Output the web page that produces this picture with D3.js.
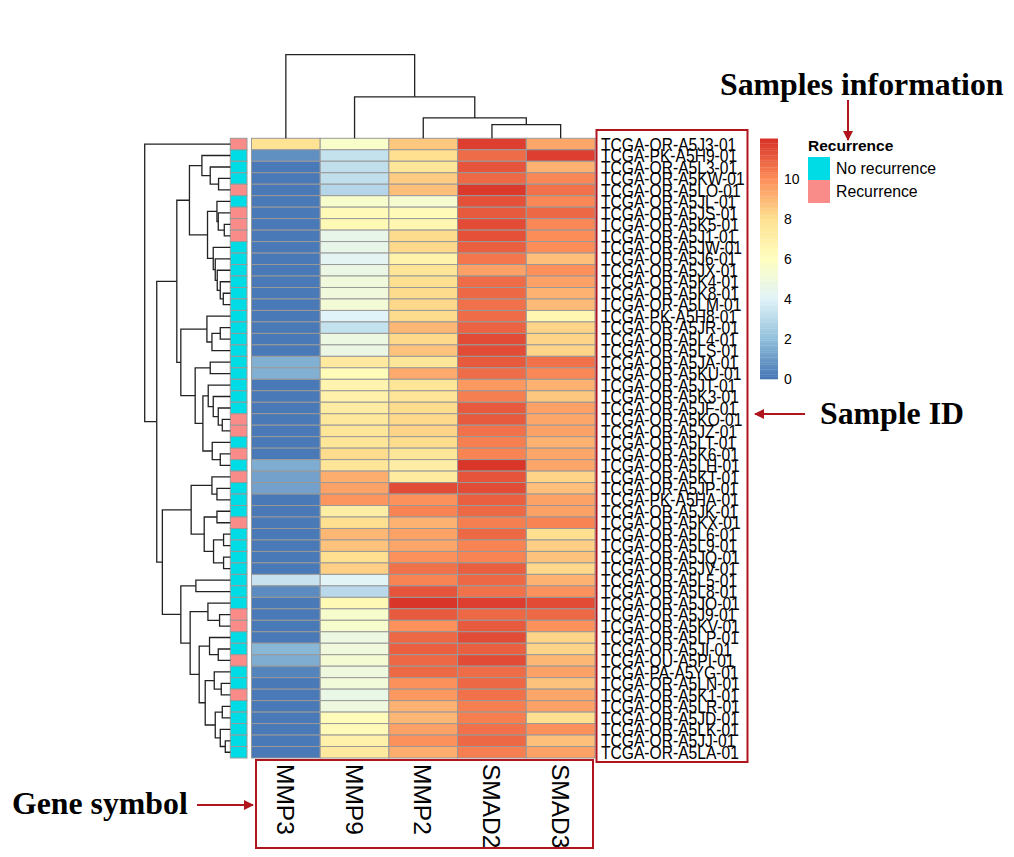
<!DOCTYPE html>
<html>
<head>
<meta charset="utf-8">
<script src="https://cdn.jsdelivr.net/npm/d3@7"></script>
<style>
  body { margin: 0; background: #fff; }
  svg { display: block; }
</style>
</head>
<body>
<div id="chart"></div>
<script>
// ---- data ----
const genes = ['MMP3', 'MMP9', 'MMP2', 'SMAD2', 'SMAD3'];

const samples = [
  'TCGA-OR-A5J3-01', 'TCGA-PK-A5H9-01', 'TCGA-OR-A5L3-01', 'TCGA-OR-A5KW-01', 'TCGA-OR-A5LO-01',
  'TCGA-OR-A5JL-01', 'TCGA-OR-A5JS-01', 'TCGA-OR-A5K5-01', 'TCGA-OR-A5J1-01', 'TCGA-OR-A5JW-01',
  'TCGA-OR-A5J6-01', 'TCGA-OR-A5JX-01', 'TCGA-OR-A5K4-01', 'TCGA-OR-A5K8-01', 'TCGA-OR-A5LM-01',
  'TCGA-PK-A5H8-01', 'TCGA-OR-A5JR-01', 'TCGA-OR-A5L4-01', 'TCGA-OR-A5LS-01', 'TCGA-OR-A5JA-01',
  'TCGA-OR-A5KU-01', 'TCGA-OR-A5JT-01', 'TCGA-OR-A5K3-01', 'TCGA-OR-A5JF-01', 'TCGA-OR-A5KO-01',
  'TCGA-OR-A5JZ-01', 'TCGA-OR-A5LT-01', 'TCGA-OR-A5K6-01', 'TCGA-OR-A5LH-01', 'TCGA-OR-A5KT-01',
  'TCGA-OR-A5JP-01', 'TCGA-PK-A5HA-01', 'TCGA-OR-A5JK-01', 'TCGA-OR-A5KX-01', 'TCGA-OR-A5L6-01',
  'TCGA-OR-A5L9-01', 'TCGA-OR-A5JQ-01', 'TCGA-OR-A5JV-01', 'TCGA-OR-A5L5-01', 'TCGA-OR-A5L8-01',
  'TCGA-OR-A5JO-01', 'TCGA-OR-A5J9-01', 'TCGA-OR-A5KV-01', 'TCGA-OR-A5LP-01', 'TCGA-OR-A5JI-01',
  'TCGA-OU-A5PI-01', 'TCGA-PA-A5YG-01', 'TCGA-OR-A5LN-01', 'TCGA-OR-A5K1-01', 'TCGA-OR-A5LR-01',
  'TCGA-OR-A5JD-01', 'TCGA-OR-A5LK-01', 'TCGA-OR-A5JJ-01', 'TCGA-OR-A5LA-01'
];

// 1 = Recurrence, 0 = No recurrence
const recurrence = [
  1, 0, 0, 0, 1, 0, 1, 1, 1, 0,
  0, 0, 0, 0, 0, 0, 0, 0, 0, 0,
  0, 0, 0, 0, 1, 1, 0, 1, 0, 1,
  0, 0, 0, 1, 0, 0, 0, 0, 0, 0,
  0, 1, 1, 0, 0, 1, 0, 0, 1, 0,
  0, 0, 0, 0
];

const mmp3 = [
  7.8, 0.7, 0.1, 0.1, 0.1, 0.1, 0.1, 0.1, 0.1, 0.1,
  0.1, 0.1, 0.1, 0.1, 0.1, 0.1, 0.1, 0.1, 0.1, 1.6,
  1.6, 0.1, 0.1, 0.1, 0.1, 0.1, 0.1, 0.1, 1.5, 1.2,
  1.2, 0.1, 0.1, 0.1, 0.1, 0.1, 0.1, 0.1, 3.4, 0.6,
  0.1, 0.1, 0.1, 0.1, 1.8, 1.5, 0.4, 0.1, 0.1, 0.1,
  0.1, 0.1, 0.1, 0.1
];
const mmp9 = [
  5.6, 3.3, 3.2, 3.2, 2.9, 5.5, 6.3, 6.4, 4.5, 4.5,
  4.2, 4.7, 5.0, 5.0, 5.2, 4.0, 3.3, 4.8, 4.7, 7.4,
  6.2, 6.7, 6.9, 7.2, 7.5, 7.6, 7.6, 8.1, 7.7, 9.2,
  9.5, 9.8, 7.1, 8.0, 9.0, 8.7, 8.0, 8.4, 4.1, 3.0,
  6.4, 5.5, 5.5, 4.8, 5.0, 5.3, 4.9, 5.1, 4.6, 4.9,
  6.2, 6.3, 6.9, 7.4
];
const mmp2 = [
  8.6, 8.0, 7.6, 8.5, 8.8, 5.4, 6.3, 6.6, 8.1, 8.2,
  6.8, 7.7, 8.0, 8.1, 8.2, 8.1, 9.0, 8.2, 8.7, 7.6,
  9.3, 7.6, 7.7, 8.1, 8.2, 8.3, 8.1, 7.6, 7.1, 7.3,
  11.4, 9.9, 10.2, 9.1, 9.5, 9.4, 9.9, 10.6, 10.2, 11.2,
  11.9, 11.1, 9.9, 10.8, 11.0, 10.8, 10.8, 9.9, 9.7, 9.1,
  9.0, 9.5, 9.9, 9.2
];
const smad2 = [
  11.7, 10.7, 11.2, 10.8, 11.8, 11.3, 11.1, 11.4, 11.3, 11.0,
  10.5, 9.5, 10.7, 10.8, 10.6, 10.7, 10.9, 11.4, 11.4, 11.1,
  10.7, 9.7, 10.3, 11.1, 11.1, 10.6, 10.3, 10.2, 11.9, 11.2,
  11.4, 11.0, 10.8, 10.3, 10.8, 10.2, 10.2, 11.0, 10.8, 10.6,
  11.7, 10.8, 11.1, 11.4, 11.0, 11.4, 10.7, 10.8, 10.6, 10.3,
  10.3, 10.6, 10.8, 10.3
];
const smad3 = [
  9.4, 11.7, 9.1, 10.1, 10.6, 10.1, 10.8, 10.1, 10.0, 10.0,
  8.8, 9.9, 9.5, 9.1, 8.9, 6.6, 8.3, 8.3, 8.3, 10.6,
  10.1, 9.1, 8.6, 9.5, 9.4, 9.5, 9.1, 9.4, 9.4, 8.3,
  8.8, 9.5, 9.5, 10.2, 8.0, 8.4, 8.7, 8.2, 9.1, 9.9,
  11.4, 10.8, 9.9, 8.3, 8.3, 9.0, 9.5, 8.7, 9.4, 9.5,
  8.0, 9.9, 8.8, 9.5
];

// dendrograms: [height, left, right]; a number is a leaf (row / column index)
const rowTree = [85.3, 0, [73.3,
  [53.3,
    [40.7,
      [28.3, 1, [20, 2, [11.7, 3, 4]]],
      [22.7,
        [13.3, 5, [12, 6, [6, 7, 8]]],
        [17, 9, [15, 10, [13, 11, [10, 12, [7, 13, 14]]]]]]],
    [49.3,
      [23.3, 15, [18.3, [10, 16, 17], 18]],
      [35,
        [20, 19, 20],
        [27.3,
          [22, 21, [17, 22, [12, 23, [8, 24, 25]]]],
          [18, 26, [10, 27, 28]]]]]],
  [67.7,
    [39,
      [18.3, 29, [13.3, 30, 31]],
      [26, [13.3, 32, 33], [16.7, [6.7, 34, 35], [6.7, 36, 37]]]],
    [49.3,
      [34.3, 38, 39],
      [40,
        [22.3, 40, [10.7, 41, 42]],
        [31,
          [20.7, 43, [12, 44, 45]],
          [25,
            [16, 46, [9, 47, 48]],
            [15, [8, 49, 50], [10, 51, [5, 52, 53]]]]]]]]]];

const colTree = [83.3, 0, [41.3, 1, [20.3, 2, [13.7, 3, 4]]]];

const legendTicks = [0, 2, 4, 6, 8, 10];
const recurrenceLabels = ['No recurrence', 'Recurrence'];
const recurrenceColors = ['#00DCE5', '#F98C88'];

// ---- drawing ----
const width = 1014, height = 857;
const values = [mmp3, mmp9, mmp2, smad2, smad3];

const svg = d3.select('#chart').append('svg')
  .attr('width', width)
  .attr('height', height)
  .style('font-family', '"Liberation Sans", Arial, sans-serif');

const y = d3.scaleBand().domain(d3.range(samples.length)).range([138.3, 758]);
const x = d3.scaleBand().domain(genes).range([251.5, 595]);

const color = d3.scaleLinear()
  .domain([0, 2, 4, 6, 8, 10, 12])
  .range(['#4575B4', '#91BFDB', '#E0F3F8', '#FFFFBF', '#FEE090', '#FC8D59', '#D73027'])
  .clamp(true);

// heatmap cells
const cells = [];
genes.forEach((g, j) => values[j].forEach((v, i) => cells.push({ g, i, v })));

svg.append('g')
  .selectAll('rect')
  .data(cells)
  .join('rect')
  .attr('x', d => x(d.g))
  .attr('y', d => y(d.i))
  .attr('width', x.bandwidth())
  .attr('height', y.bandwidth())
  .attr('fill', d => color(d.v))
  .attr('stroke', '#999')
  .attr('stroke-width', 1);

// annotation column
const annX = d3.scaleBand().domain(['Recurrence']).range([230.3, 247]);
svg.append('g')
  .selectAll('rect')
  .data(recurrence)
  .join('rect')
  .attr('x', annX('Recurrence'))
  .attr('y', (d, i) => y(i))
  .attr('width', annX.bandwidth())
  .attr('height', y.bandwidth())
  .attr('fill', d => recurrenceColors[d])
  .attr('stroke', '#999')
  .attr('stroke-width', 1);

// dendrogram helper: returns {pos, h} and collects the merge segments
function layoutTree(node, leafPos, segs) {
  if (typeof node === 'number') return { pos: leafPos(node), h: 0 };
  const a = layoutTree(node[1], leafPos, segs);
  const b = layoutTree(node[2], leafPos, segs);
  segs.push({ a, b, h: node[0] });
  return { pos: (a.pos + b.pos) / 2, h: node[0] };
}

// row dendrogram
const rowH = d3.scaleLinear().domain([0, rowTree[0]]).range([230.3, 144.7]);
const rowSegs = [];
layoutTree(rowTree, i => y(i) + y.bandwidth() / 2, rowSegs);
svg.append('g')
  .selectAll('path')
  .data(rowSegs)
  .join('path')
  .attr('d', s => `M${rowH(s.a.h)},${s.a.pos}H${rowH(s.h)}V${s.b.pos}H${rowH(s.b.h)}`)
  .attr('fill', 'none')
  .attr('stroke', '#222')
  .attr('stroke-width', 1.3);

// column dendrogram
const colH = d3.scaleLinear().domain([0, colTree[0]]).range([138.3, 54.7]);
const colSegs = [];
layoutTree(colTree, j => x(genes[j]) + x.bandwidth() / 2, colSegs);
svg.append('g')
  .selectAll('path')
  .data(colSegs)
  .join('path')
  .attr('d', s => `M${s.a.pos},${colH(s.a.h)}V${colH(s.h)}H${s.b.pos}V${colH(s.b.h)}`)
  .attr('fill', 'none')
  .attr('stroke', '#222')
  .attr('stroke-width', 1.3);

// row labels (tall, narrow glyphs as in the reference)
const sx = 0.84;
svg.append('g')
  .attr('transform', `translate(601,0) scale(${sx},1)`)
  .selectAll('text')
  .data(samples)
  .join('text')
  .attr('x', 0)
  .attr('y', (d, i) => y(i) + y.bandwidth() / 2 + 6.7)
  .style('font-size', '18.6px')
  .text(d => d);

// column labels
svg.append('g')
  .selectAll('text')
  .data(genes)
  .join('text')
  .attr('transform', d => `translate(${x(d) + x.bandwidth() / 2 - 9},764) rotate(90)`)
  .style('font-size', '24.5px')
  .text(d => d);

// boxes around labels
const red = '#B0141C';
svg.append('rect').attr('x', 596.5).attr('y', 130).attr('width', 151).attr('height', 632)
  .attr('fill', 'none').attr('stroke', red).attr('stroke-width', 2);
svg.append('rect').attr('x', 256).attr('y', 760).attr('width', 337).attr('height', 88)
  .attr('fill', 'none').attr('stroke', red).attr('stroke-width', 2);

// colour legend
const legY = d3.scaleLinear().domain([0, 12]).range([379, 138.5]);
const legSteps = d3.range(0, 12, 0.12);
svg.append('g')
  .selectAll('rect')
  .data(legSteps)
  .join('rect')
  .attr('x', 760)
  .attr('y', d => legY(d + 0.12))
  .attr('width', 18)
  .attr('height', d => legY(d) - legY(d + 0.12) + 0.3)
  .attr('fill', d => color(d + 0.06));

svg.append('g')
  .selectAll('text')
  .data(legendTicks)
  .join('text')
  .attr('x', 784)
  .attr('y', d => legY(d) + 5)
  .style('font-size', '14px')
  .text(d => d);

// annotation legend
svg.append('text').attr('x', 808).attr('y', 151)
  .style('font-size', '15.5px').style('font-weight', 'bold').text('Recurrence');
const annLeg = d3.scaleBand().domain(recurrenceLabels).range([157, 203]);
svg.append('g')
  .selectAll('rect')
  .data(recurrenceLabels)
  .join('rect')
  .attr('x', 808)
  .attr('y', d => annLeg(d))
  .attr('width', 22)
  .attr('height', annLeg.bandwidth())
  .attr('fill', (d, i) => recurrenceColors[i]);
svg.append('g')
  .selectAll('text')
  .data(recurrenceLabels)
  .join('text')
  .attr('x', 836)
  .attr('y', d => annLeg(d) + annLeg.bandwidth() / 2 + 5.5)
  .style('font-size', '15.8px')
  .text(d => d);

// callouts
const defs = svg.append('defs');
defs.append('marker')
  .attr('id', 'arrow')
  .attr('viewBox', '0 0 10 10')
  .attr('refX', 9).attr('refY', 5)
  .attr('markerWidth', 5).attr('markerHeight', 5)
  .attr('orient', 'auto')
  .append('path').attr('d', 'M0,0L10,5L0,10Z').attr('fill', red);

const serif = '"Liberation Serif", "Times New Roman", serif';
function callout(tx, ty, label, x1, y1, x2, y2) {
  svg.append('text').attr('x', tx).attr('y', ty)
    .style('font-family', serif).style('font-weight', 'bold').style('font-size', '31.8px')
    .text(label);
  svg.append('line').attr('x1', x1).attr('y1', y1).attr('x2', x2).attr('y2', y2)
    .attr('stroke', red).attr('stroke-width', 2).attr('marker-end', 'url(#arrow)');
}
callout(720, 95, 'Samples information', 848, 100, 848, 140);
callout(820, 424, 'Sample ID', 805, 414, 755, 414);
callout(12, 814, 'Gene symbol', 197, 805, 253, 805);
</script>
</body>
</html>
